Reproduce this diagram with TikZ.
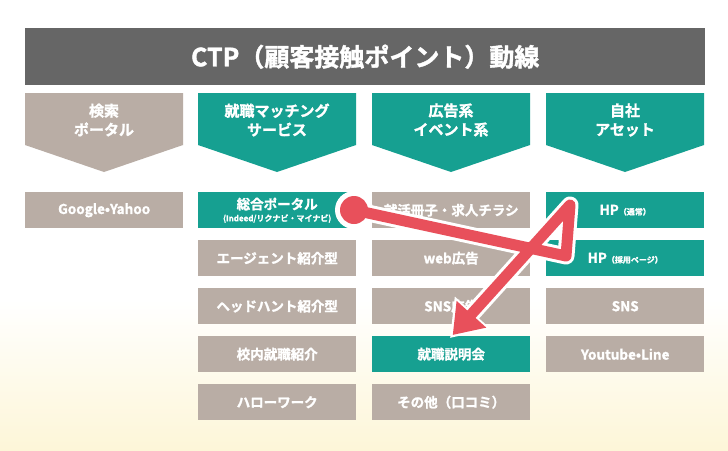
\documentclass[tikz,border=0pt]{standalone}
\usepackage{fontspec}
\setmainfont{Noto Sans CJK JP}[BoldFont={Noto Sans CJK JP Bold},BoldFeatures={FakeBold=1.5}]
\usetikzlibrary{positioning,arrows.meta}
\definecolor{ctpgray}{HTML}{B9ADA5}
\definecolor{ctpteal}{HTML}{16A091}
\definecolor{ctpdark}{HTML}{666666}
\definecolor{ctpred}{HTML}{E8505B}
\definecolor{ctpbg}{HTML}{FDF6D8}
\begin{document}
\begin{tikzpicture}
	[   x=1pt,y=-1pt,
		box/.style={fill=#1,text=white,font=\bfseries\fontsize{13.5}{14}\selectfont,minimum width=158pt,minimum height=36pt,inner sep=0pt,align=center,anchor=north west},
		head/.style={text=white,font=\bfseries\fontsize{15}{19}\selectfont,align=center},
	]
	\tikzset{red arrow/.style={draw=ctpred,line width=11pt,line join=round,shorten >=4pt,-{Triangle[length=28pt,width=38pt]}}}
	\useasboundingbox (0,0) rectangle (728,450);
	\shade[top color=white,bottom color=ctpbg] (0,300) rectangle (728,450);
	\fill[white] (0,0) rectangle (728,300);
	
	\node[fill=ctpdark,minimum width=680pt,minimum height=57pt,anchor=north west,text=white,font=\bfseries\fontsize{25}{27}\selectfont] (title) at (25,28) {CTP（顧客接触ポイント）動線};
	
	% header chevrons
	\foreach \x/\c/\t [count=\i] in {25/ctpgray/検索\\ポータル, 198/ctpteal/就職マッチング\\サービス, 372/ctpteal/広告系\\イベント系, 546/ctpteal/自社\\アセット}
	{
		\fill[\c] (\x,93) -- (\x+158,93) -- (\x+158,145) -- (\x+79,172) -- (\x,145) -- cycle;
		\node[head] (h-\i) at (\x+79,120) {\t};
	}
	
	% items
	\node[box=ctpgray] (a-1) at (25,192) {Google•Yahoo};
	
	\node[box=ctpteal] (b-1) at (198,192) {総合ポータル\\[-2pt]{\fontsize{8}{9}\selectfont (Indeed/リクナビ・マイナビ)}};
	\foreach \t [count=\i from 2] in {エージェント紹介型,ヘッドハント紹介型,校内就職紹介,ハローワーク}
	\node[box=ctpgray] (b-\i) at (198,{192+48*(\i-1)}) {\t};
	
	\foreach \t/\c [count=\i] in {就活冊子・求人チラシ/ctpgray,web広告/ctpgray,SNS広告/ctpgray,就職説明会/ctpteal,その他（口コミ）/ctpgray}
	\node[box=\c] (c-\i) at (372,{192+48*(\i-1)}) {\t};
	
	\foreach \t/\c [count=\i] in {HP{\fontsize{8}{9}\selectfont（通常）}/ctpteal,HP{\fontsize{8}{9}\selectfont（採用ページ）}/ctpteal,SNS/ctpgray,Youtube•Line/ctpgray}
	\node[box=\c] (d-\i) at (546,{192+48*(\i-1)}) {\t};
	
	% flow arrow
	\coordinate (start) at (354,210);
	\coordinate (bend) at (566,256);
	\coordinate (top) at (570,205);
	\coordinate (tip) at (450,338);
	\draw[line width=17pt,white,line join=round,-{Triangle[length=34pt,width=46pt]}] (start) -- (bend) -- (top) -- (tip);
	\fill[white] (start) circle (19pt);
	\fill[ctpred] (start) circle (14pt);
	\path[red arrow] (start) -- (bend) -- (top) -- (tip);
\end{tikzpicture}
\end{document}
